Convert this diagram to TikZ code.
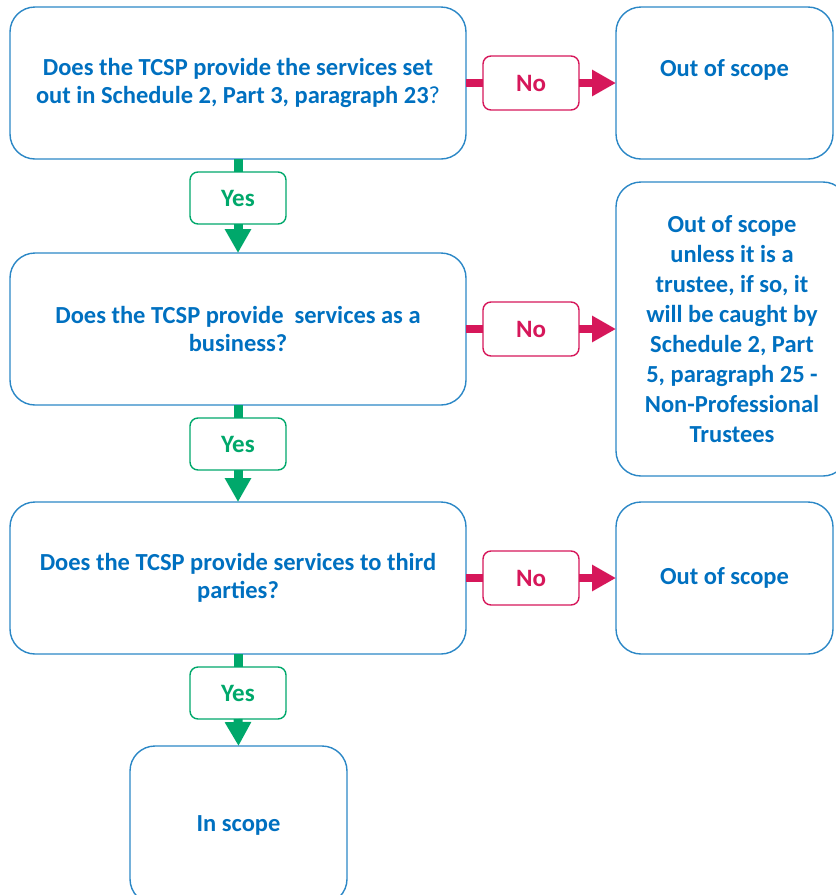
\documentclass[tikz,border=0pt]{standalone}
\usepackage{fontspec}
\setmainfont{Carlito}
\usepackage{tikz}
\usetikzlibrary{arrows.meta,positioning}
\definecolor{tcblue}{HTML}{0070C0}
\definecolor{tcline}{HTML}{2B87C6}
\definecolor{tcred}{HTML}{D6175A}
\definecolor{tcgreen}{HTML}{00A86B}
\tikzset{
  qbox/.style={draw=tcline, line width=1.4pt, rounded corners=25pt, outer sep=0pt,
               align=center, text=tcblue, font=\fontsize{24.5}{28}\selectfont\bfseries},
  yesbox/.style={draw=tcgreen, line width=1.4pt, rounded corners=8pt, outer sep=0pt,
                 minimum width=96pt, minimum height=52pt, text=tcgreen,
                 font=\fontsize{25}{28}\selectfont\bfseries},
  nobox/.style={yesbox, draw=tcred, text=tcred, minimum height=54pt},
  yesbar/.style={tcgreen, line width=9pt},
  nobar/.style={tcred, line width=8pt},
  tip/.style={-{Triangle[length=24pt,width=25pt]}}
}
\begin{document}
\begin{tikzpicture}[x=1pt,y=-1pt]
  \path[use as bounding box] (0,0) rectangle (836,895);
  \clip (0,0) rectangle (836,895);
  % Questions
  \node[qbox, minimum width=456pt, minimum height=152pt] (q1) at (238,83)
    {Does the TCSP provide the services set\\out in Schedule 2, Part 3, paragraph 23{\mdseries ?}};
  \node[qbox, minimum width=456pt, minimum height=152pt] (q2) at (238,329)
    {Does the TCSP provide\ \ services as a\\business?};
  \node[qbox, minimum width=456pt, minimum height=152pt] (q3) at (238,578)
    {Does the TCSP provide services to third\\parties?};
  % Outcomes
  \node[qbox, minimum width=217pt, minimum height=152pt] (out1) at (724.5,83) {};
  \node[qbox, draw=none, yshift=13pt] (out1t) at (out1.center) {Out of scope};
  \node[qbox, minimum width=232pt, minimum height=294pt,
        font=\fontsize{24.5}{30}\selectfont\bfseries] (out2) at (732,329)
    {Out of scope\\unless it is a\\trustee, if so, it\\will be caught by\\Schedule 2, Part\\5, paragraph 25 -\\Non-Professional\\Trustees};
  \node[qbox, minimum width=217pt, minimum height=152pt] (out3) at (724.5,578) {Out of scope};
  \node[qbox, minimum width=217pt, minimum height=158pt] (inscope) at (238.5,825) {In scope};
  % Yes labels
  \node[yesbox] (yes1) at (238,198) {Yes};
  \node[yesbox] (yes2) at (238,444) {Yes};
  \node[yesbox] (yes3) at (238,693) {Yes};
  % No labels
  \node[nobox] (no1) at (531,83) {No};
  \node[nobox] (no2) at (531,329) {No};
  \node[nobox] (no3) at (531,578) {No};
  % Connectors
  \draw[yesbar] (q1.south) -- (yes1.north);
  \draw[yesbar, tip] (yes1.south) -- (q2.north);
  \draw[yesbar] (q2.south) -- (yes2.north);
  \draw[yesbar, tip] (yes2.south) -- (q3.north);
  \draw[yesbar] (q3.south) -- (yes3.north);
  \draw[yesbar, tip] (yes3.south) -- (inscope.north);
  \draw[nobar] (q1.east) -- (no1.west);
  \draw[nobar, tip] (no1.east) -- (out1.west);
  \draw[nobar] (q2.east) -- (no2.west);
  \draw[nobar, tip] (no2.east) -- (out2.west);
  \draw[nobar] (q3.east) -- (no3.west);
  \draw[nobar, tip] (no3.east) -- (out3.west);
\end{tikzpicture}
\end{document}
